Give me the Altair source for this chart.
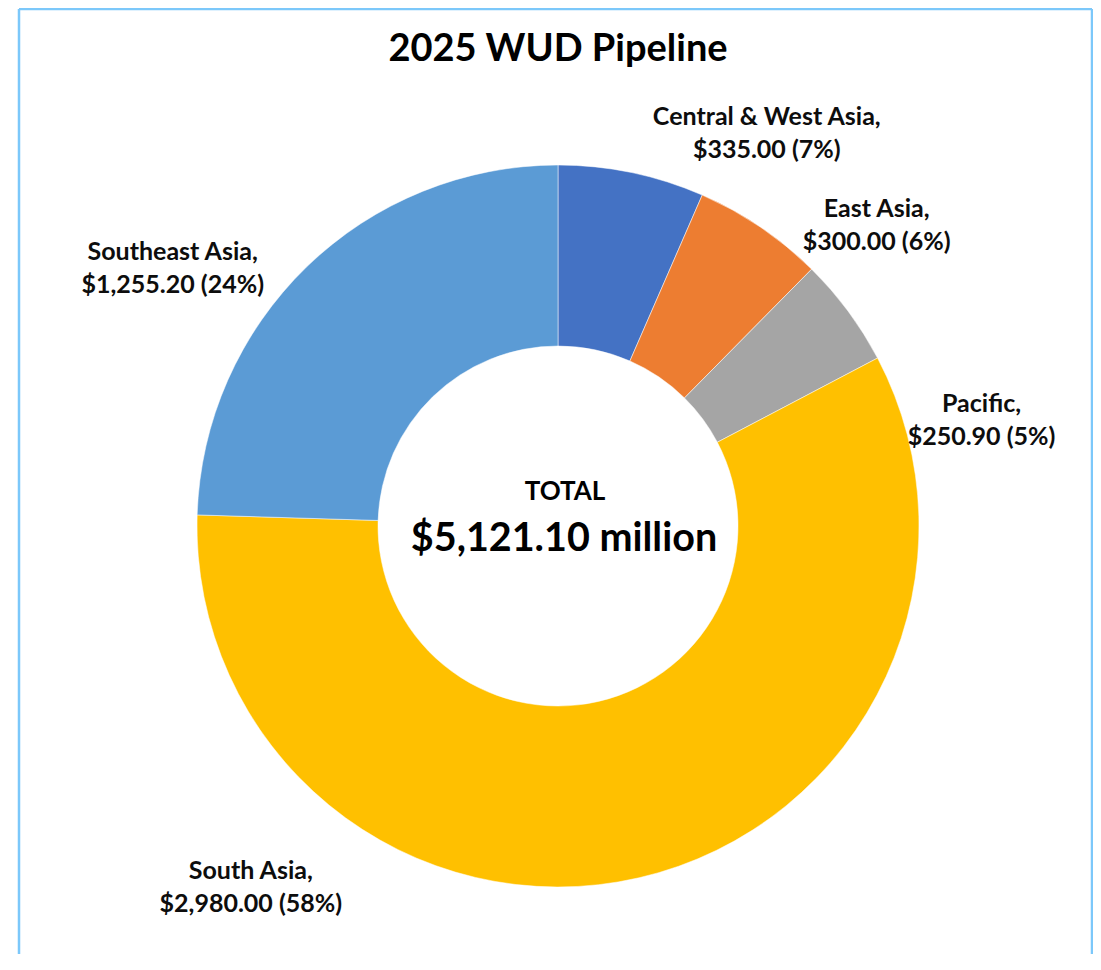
import altair as alt
import pandas as pd

regions = ["Central & West Asia", "East Asia", "Pacific", "South Asia", "Southeast Asia"]
values = [335.00, 300.00, 250.90, 2980.00, 1255.20]
pct_labels = [7, 6, 5, 58, 24]
colors = ["#4472C4", "#ED7D31", "#A5A5A5", "#FFC000", "#5B9BD5"]
title_text = "2025 WUD Pipeline"
center_caption = "TOTAL"

total = sum(values)
df = pd.DataFrame({"region": regions, "value": values, "idx": list(range(len(regions)))})
df["mid"] = df["value"].cumsum() - df["value"] / 2
df["label"] = [f"{r},\n${v:,.2f} ({p}%)" for r, v, p in zip(regions, values, pct_labels)]

W, H = 1073, 945
CX, CY = 539, 517
FONT = "Lato"
BORDER = "#7CC8FA"
LH = 33

theta_scale = alt.Scale(domain=[0, total])
base = alt.Chart(df)

arcs = base.mark_arc(radius=361, radius2=180, stroke="white", strokeWidth=0.5).encode(
    theta=alt.Theta("value:Q", stack=True, scale=theta_scale),
    color=alt.Color("region:N", scale=alt.Scale(domain=regions, range=colors), legend=None),
    order=alt.Order("idx:Q"),
    x=alt.value(CX),
    y=alt.value(CY),
)

offsets = {
    "Central & West Asia": (119, 38),
    "East Asia": (72, 64),
    "Pacific": (70, 156),
    "South Asia": (-406, -67),
    "Southeast Asia": (-79, 58),
}

layers = [arcs]
for r in regions:
    dx, dy = offsets[r]
    layers.append(
        base.transform_filter(alt.datum.region == r)
        .mark_text(radius=440, dx=dx, dy=dy - LH / 2, font=FONT, fontSize=25, fontWeight="bold",
                   lineBreak="\n", lineHeight=LH, align="center", baseline="middle", color="#0d0d0d")
        .encode(
            theta=alt.Theta("mid:Q", stack=None, scale=theta_scale),
            x=alt.value(CX),
            y=alt.value(CY),
            text="label:N",
        )
    )

title = alt.Chart(pd.DataFrame({"t": [title_text]})).mark_text(
    font=FONT, fontSize=38, fontWeight="bold", color="#000000", align="center", baseline="middle"
).encode(x=alt.value(CX), y=alt.value(41), text="t:N")

cap = alt.Chart(pd.DataFrame({"t": [center_caption]})).mark_text(
    font=FONT, fontSize=26, fontWeight="bold", color="#000000", align="center", baseline="middle"
).encode(x=alt.value(CX + 7), y=alt.value(483), text="t:N")

tot = alt.Chart(pd.DataFrame({"t": [f"${total:,.2f} million"]})).mark_text(
    font=FONT, fontSize=39.5, fontWeight="bold", color="#000000", align="center", baseline="middle"
).encode(x=alt.value(CX + 6), y=alt.value(530), text="t:N")

one = pd.DataFrame({"k": [0]})
top_rule = alt.Chart(one).mark_rule(color=BORDER, strokeWidth=2.5).encode(
    x=alt.value(0), x2=alt.value(W), y=alt.value(0))
left_rule = alt.Chart(one).mark_rule(color=BORDER, strokeWidth=2.5).encode(
    x=alt.value(0), y=alt.value(0), y2=alt.value(H))
right_rule = alt.Chart(one).mark_rule(color=BORDER, strokeWidth=2.5).encode(
    x=alt.value(W), y=alt.value(0), y2=alt.value(H))

chart = alt.layer(*layers, title, cap, tot, top_rule, left_rule, right_rule).properties(
    width=W, height=H,
    padding={"left": 11, "top": 1, "right": 1, "bottom": 0},
    autosize="none",
).configure_view(stroke=None)

chart.save("out.html", embed_options={"renderer": "svg", "actions": False})
